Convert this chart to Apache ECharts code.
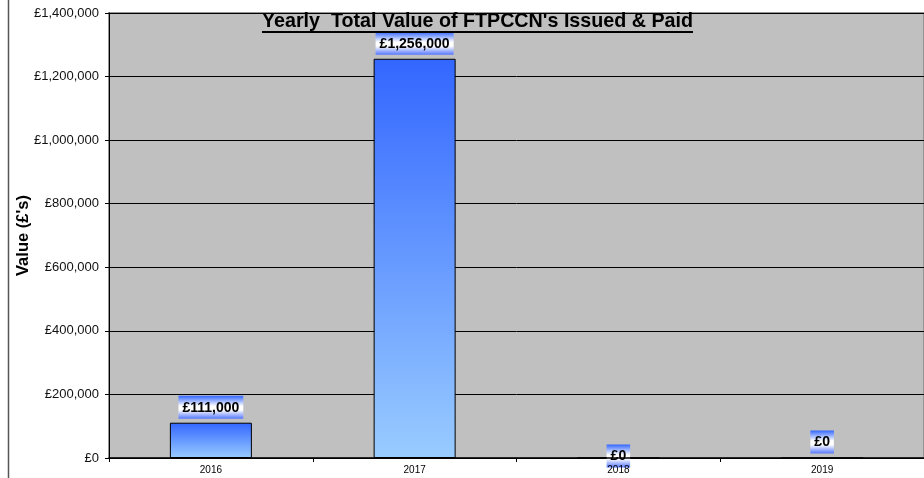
<!DOCTYPE html>
<html>
<head>
<meta charset="utf-8">
<script src="https://cdn.jsdelivr.net/npm/echarts@6/dist/echarts.min.js"></script>
<style>
html,body{margin:0;padding:0;background:#fff;}
#chart{width:924px;height:478px;}
</style>
</head>
<body>
<div id="chart"></div>
<script>
var categories = ['2016', '2017', '2018', '2019'];
var values = [111000, 1256000, 0, 0];
var yTicks = [0, 200000, 400000, 600000, 800000, 1000000, 1200000, 1400000];
var titleText = "Yearly  Total Value of FTPCCN's Issued & Paid";
var yAxisTitle = "Value (\u00a3's)";

function money(v) {
  return '\u00a3' + Number(v).toLocaleString('en-GB');
}

var FONT = 'Liberation Sans, Arial, sans-serif';
var chart = echarts.init(document.getElementById('chart'), null, {renderer: 'canvas'});

var barGradient = new echarts.graphic.LinearGradient(0, 0, 0, 1, [
  {offset: 0, color: '#3366FF'},
  {offset: 1, color: '#99CCFF'}
]);
var labelGradient = new echarts.graphic.LinearGradient(0, 0, 0, 1, [
  {offset: 0, color: '#3366FF'},
  {offset: 0.45, color: '#FFFFFF'},
  {offset: 0.62, color: '#FFFFFF'},
  {offset: 1, color: '#5577FF'}
]);

var seriesData = values.map(function (v, i) {
  var item = {value: v};
  if (categories[i] === '2018') {
    item.label = {offset: [0, 14]};
  }
  return item;
});

var option = {
  animation: false,
  backgroundColor: '#FFFFFF',
  title: {
    text: titleText,
    left: 262,
    top: 12,
    padding: 0,
    textStyle: {
      fontFamily: FONT,
      fontSize: 19.7,
      fontWeight: 'bold',
      color: '#000'
    }
  },
  grid: {
    left: 109,
    top: 13,
    width: 824,
    height: 445,
    show: true,
    backgroundColor: '#C0C0C0',
    borderColor: '#959595',
    borderWidth: 2
  },
  xAxis: {
    type: 'category',
    data: categories,
    axisLine: {show: true, lineStyle: {color: '#000', width: 1.5}},
    axisTick: {show: true, alignWithLabel: false, length: 4, lineStyle: {color: '#000'}},
    axisLabel: {
      fontFamily: FONT,
      fontSize: 10,
      color: '#000',
      margin: 7
    },
    z: 5
  },
  yAxis: {
    type: 'value',
    min: yTicks[0],
    max: yTicks[yTicks.length - 1],
    interval: yTicks[1] - yTicks[0],
    name: yAxisTitle,
    nameLocation: 'middle',
    nameGap: 77,
    nameMoveOverlap: false,
    nameRotate: 90,
    nameTextStyle: {
      fontFamily: FONT,
      fontSize: 16.5,
      fontWeight: 'bold',
      color: '#000'
    },
    axisLine: {show: true, lineStyle: {color: '#000', width: 1}},
    axisTick: {show: true, length: 4, lineStyle: {color: '#000'}},
    axisLabel: {
      fontFamily: FONT,
      fontSize: 13,
      color: '#111',
      margin: 10,
      formatter: function (v) { return money(v); }
    },
    splitLine: {show: true, lineStyle: {color: '#000', width: 1}}
  },
  series: [{
    type: 'bar',
    data: seriesData,
    barWidth: 82,
    itemStyle: {
      color: barGradient,
      borderColor: '#000',
      borderWidth: 1
    },
    label: {
      show: true,
      position: 'top',
      distance: 4,
      formatter: function (p) { return money(p.value); },
      fontFamily: FONT,
      fontSize: 14,
      lineHeight: 14,
      fontWeight: 'bold',
      color: '#000',
      backgroundColor: labelGradient,
      padding: [5, 4, 4, 4]
    },
    z: 3
  }],
  graphic: [
    {
      type: 'line',
      shape: {x1: 8.5, y1: 0, x2: 8.5, y2: 478},
      style: {stroke: '#555', lineWidth: 1.5},
      z: 10
    },
    {
      type: 'rect',
      shape: {x: 262, y: 31, width: 431, height: 2},
      style: {fill: '#000'},
      z: 10
    }
  ]
};

chart.setOption(option);
</script>
</body>
</html>
